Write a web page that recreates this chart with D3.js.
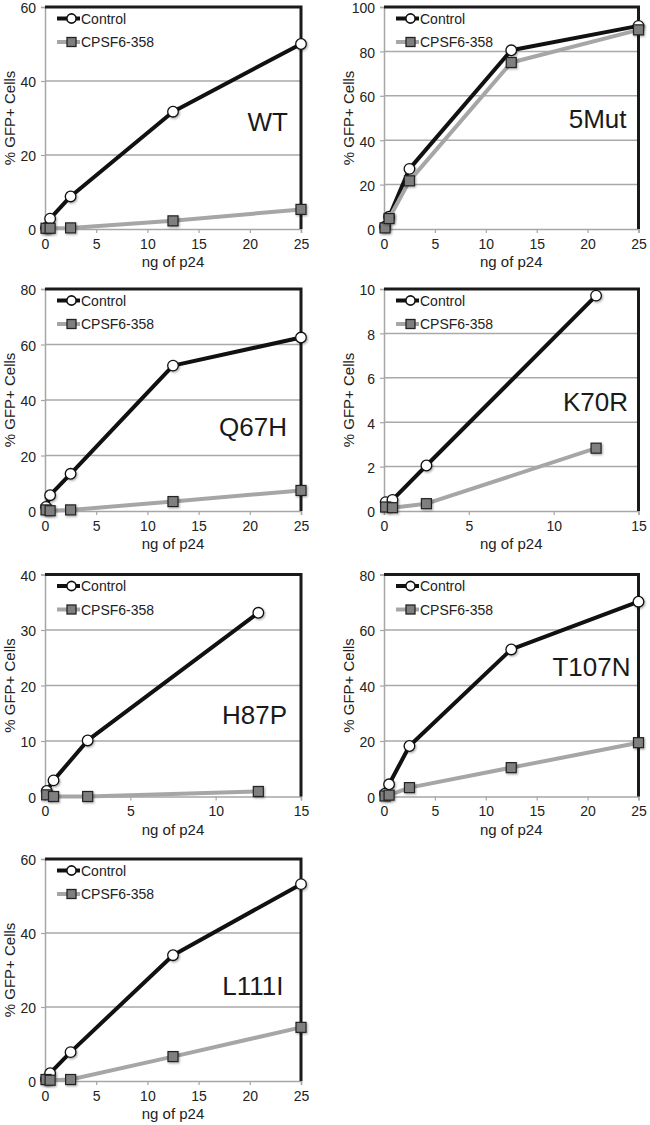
<!DOCTYPE html>
<html>
<head>
<meta charset="utf-8">
<script src="https://cdn.jsdelivr.net/npm/d3@7"></script>
<style>
  html, body { margin: 0; padding: 0; background: #fff; }
  svg { display: block; font-family: "Liberation Sans", Arial, Helvetica, sans-serif; }
</style>
</head>
<body>
<svg id="chart" width="650" height="1125"></svg>
<script>
// ---------------- data ----------------
const panelNames = ["WT", "5Mut", "Q67H", "K70R", "H87P", "T107N", "L111I"];
const seriesNames = ["Control", "CPSF6-358"];
const doseLong = [0.1, 0.5, 2.5, 12.5, 25];
const doseShort = [0.1, 0.5, 2.5, 12.5];
const xMaxes = [25, 25, 25, 15, 15, 25, 25];
const yMaxes = [60, 100, 80, 10, 40, 80, 60];
const yTickSteps = [20, 20, 20, 2, 10, 20, 20];
const xTickStep = 5;

const controlWT    = [0.3, 2.8, 8.8, 31.7, 50.0];
const control5Mut  = [1.0, 5.5, 27.1, 80.5, 91.5];
const controlQ67H  = [1.5, 5.7, 13.4, 52.4, 62.5];
const controlK70R  = [0.4, 0.5, 2.05, 9.7];
const controlH87P  = [1.0, 2.9, 10.1, 33.1];
const controlT107N = [1.0, 4.4, 18.2, 53.0, 70.2];
const controlL111I = [0.5, 2.1, 7.8, 34.0, 53.2];

const cpsfWT    = [0.2, 0.2, 0.3, 2.2, 5.3];
const cpsf5Mut  = [0.5, 4.7, 21.7, 75.0, 89.7];
const cpsfQ67H  = [0.4, 0.1, 0.4, 3.4, 7.4];
const cpsfK70R  = [0.18, 0.15, 0.33, 2.83];
const cpsfH87P  = [0.3, 0.0, 0.0, 0.9];
const cpsfT107N = [0.2, 0.5, 3.2, 10.4, 19.4];
const cpsfL111I = [0.4, 0.2, 0.4, 6.6, 14.5];

const xAxisTitle = "ng of p24";
const yAxisTitle = "% GFP+ Cells";

const controlSets = [controlWT, control5Mut, controlQ67H, controlK70R, controlH87P, controlT107N, controlL111I];
const cpsfSets = [cpsfWT, cpsf5Mut, cpsfQ67H, cpsfK70R, cpsfH87P, cpsfT107N, cpsfL111I];

// ---------------- layout ----------------
const colLeft = [45, 384];
const colWidth = [256, 254.5];
const rowTop = [7, 289, 574.5, 859];
const plotH = 222;
const labelDx = [-13, -12, -14, -10.5, -14, -8, -17.5];
const labelDy = [123.7, 121.3, 146.7, 122.4, 149.3, 101.7, 136];

const svg = d3.select("#chart");
const defs = svg.append("defs");
const f = defs.append("filter").attr("id", "shadow").attr("x", "-50%").attr("y", "-50%").attr("width", "200%").attr("height", "200%");
f.append("feDropShadow").attr("dx", 1).attr("dy", 1.2).attr("stdDeviation", 0.9)
  .attr("flood-color", "#000").attr("flood-opacity", 0.35);

const gridColor = "#a9a9a9";
const axisColor = "#a6a6a6";
const ctrlColor = "#111";
const cpsfColor = "#a6a6a6";
const squareFill = "#7f7f7f";

panelNames.forEach((name, i) => {
  const col = i % 2, row = Math.floor(i / 2);
  const left = colLeft[col], top = rowTop[row], w = colWidth[col];
  const bottom = top + plotH, right = left + w;
  const doses = xMaxes[i] === 25 ? doseLong : doseShort;

  const x = d3.scaleLinear().domain([0, xMaxes[i]]).range([left, right]);
  const y = d3.scaleLinear().domain([0, yMaxes[i]]).range([bottom, top]);
  const yTicks = d3.range(0, yMaxes[i] + yTickSteps[i] / 2, yTickSteps[i]);
  const xTicks = d3.range(0, xMaxes[i] + 0.01, xTickStep);

  const g = svg.append("g");

  // gridlines
  g.selectAll(".grid").data(yTicks.filter(t => t > 0 && t < yMaxes[i])).enter()
    .append("line")
    .attr("x1", left).attr("x2", right)
    .attr("y1", d => y(d)).attr("y2", d => y(d))
    .attr("stroke", gridColor).attr("stroke-width", 1.5);

  // y axis
  const yAxis = d3.axisLeft(y).tickValues(yTicks).tickSize(4).tickPadding(5).tickFormat(d3.format("d"));
  const ya = g.append("g").attr("transform", `translate(${left},0)`).call(yAxis);
  ya.select(".domain").attr("stroke", axisColor).attr("stroke-width", 1.5);
  ya.selectAll(".tick line").attr("stroke", axisColor).attr("stroke-width", 1.2);
  ya.selectAll(".tick text").attr("font-size", 14).attr("fill", "#222").attr("dy", "0.42em")
    .attr("font-family", "'Liberation Sans', Arial, sans-serif");

  // x axis
  const xAxis = d3.axisBottom(x).tickValues(xTicks).tickSize(4).tickPadding(6).tickFormat(d3.format("d"));
  const xa = g.append("g").attr("transform", `translate(0,${bottom})`).call(xAxis);
  xa.select(".domain").attr("stroke", axisColor).attr("stroke-width", 1.5);
  xa.selectAll(".tick line").attr("stroke", axisColor).attr("stroke-width", 1.2);
  xa.selectAll(".tick text").attr("font-size", 14).attr("fill", "#222")
    .attr("font-family", "'Liberation Sans', Arial, sans-serif");

  // top & right border
  g.append("path")
    .attr("d", `M${left},${top}H${right}V${bottom}`)
    .attr("fill", "none").attr("stroke", "#1a1a1a").attr("stroke-width", 3);

  // axis titles
  g.append("text")
    .attr("x", (left + right) / 2).attr("y", bottom + 38)
    .attr("text-anchor", "middle").attr("font-size", 15).attr("fill", "#222")
    .text(xAxisTitle);
  g.append("text")
    .attr("transform", `translate(${left - 30},${(top + bottom) / 2}) rotate(-90)`)
    .attr("text-anchor", "middle").attr("font-size", 15).attr("fill", "#222")
    .text(yAxisTitle);

  // panel label
  g.append("text")
    .attr("x", right + labelDx[i]).attr("y", top + labelDy[i])
    .attr("text-anchor", "end").attr("font-size", 26).attr("fill", "#1a1a1a")
    .text(name);

  const line = d3.line().x(d => x(d[0])).y(d => y(d[1]));
  const ctrlPts = doses.map((d, k) => [d, controlSets[i][k]]);
  const cpsfPts = doses.map((d, k) => [d, cpsfSets[i][k]]);

  // control series
  g.append("path").datum(ctrlPts).attr("d", line)
    .attr("fill", "none").attr("stroke", ctrlColor).attr("stroke-width", 4).attr("stroke-linejoin", "round");
  g.selectAll(".ctrl").data(ctrlPts).enter().append("circle")
    .attr("cx", d => x(d[0])).attr("cy", d => y(d[1])).attr("r", 5.3)
    .attr("fill", "#fff").attr("stroke", "#111").attr("stroke-width", 1.3)
    .attr("filter", "url(#shadow)");

  // CPSF6 series
  g.append("path").datum(cpsfPts).attr("d", line)
    .attr("fill", "none").attr("stroke", cpsfColor).attr("stroke-width", 4).attr("stroke-linejoin", "round");
  g.selectAll(".cpsf").data(cpsfPts).enter().append("rect")
    .attr("x", d => x(d[0]) - 5).attr("y", d => y(d[1]) - 5)
    .attr("width", 10).attr("height", 10)
    .attr("fill", squareFill).attr("stroke", "#222").attr("stroke-width", 1.2)
    .attr("filter", "url(#shadow)");

  // legend
  const lg = g.append("g").attr("transform", `translate(${left},${top})`);
  seriesNames.forEach((s, k) => {
    const ly = k === 0 ? 11.5 : 35;
    lg.append("line").attr("x1", 12).attr("x2", 35).attr("y1", ly).attr("y2", ly)
      .attr("stroke", k === 0 ? ctrlColor : cpsfColor).attr("stroke-width", 4);
    if (k === 0) {
      lg.append("circle").attr("cx", 26.5).attr("cy", ly).attr("r", 4.6)
        .attr("fill", "#fff").attr("stroke", "#111").attr("stroke-width", 1.6);
    } else {
      lg.append("rect").attr("x", 22).attr("y", ly - 4.5).attr("width", 9).attr("height", 9)
        .attr("fill", squareFill).attr("stroke", "#222").attr("stroke-width", 1.3);
    }
    lg.append("text").attr("x", 36).attr("y", ly + 5).attr("font-size", 14).attr("fill", "#222").text(s);
  });
});
</script>
</body>
</html>
